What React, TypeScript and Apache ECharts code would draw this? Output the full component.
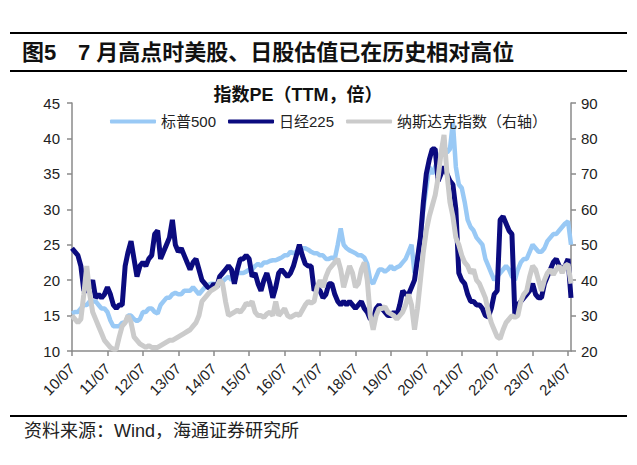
import React, { useEffect, useRef } from "react";
import * as echarts from "echarts";

// Monthly categories, 2010-07 .. 2024-08
const START_YEAR = 2010;
const START_MONTH = 7;
const N_MONTHS = 170;
const months: string[] = [];
for (let i = 0; i < N_MONTHS; i++) {
  const m = START_MONTH - 1 + i;
  const y = START_YEAR + Math.floor(m / 12);
  const mm = (m % 12) + 1;
  months.push(`${String(y % 100).padStart(2, "0")}/${String(mm).padStart(2, "0")}`);
}

const seriesNames = ["标普500", "日经225", "纳斯达克指数（右轴）"];

// S&P 500 PE (TTM), left axis
const sp500 = [
  15.3, 15.5, 15.5, 16, 16.5, 16.5, 17, 17, 17, 16.5,
  16, 16, 15.5, 14.3, 13.5, 13.5, 13.5, 14, 14, 15,
  15, 14.5, 14.2, 14.5, 15.5, 15.5, 16, 16, 15.5, 15.3,
  16.5, 17, 17.5, 17.5, 18, 18.2, 18, 18, 18.5, 18.5,
  18.5, 19, 18.5, 18, 18.5, 19, 19.3, 19.5, 19.5, 19.2,
  19.5, 19.8, 20.2, 20.5, 20, 20.5, 21, 21, 21, 21.2,
  21.5, 21.5, 22, 22.3, 22, 22.5, 22.5, 22.7, 22.8, 22.8,
  23, 23.2, 23.5, 23.5, 24, 23.8, 24, 24.2, 24.5, 24.5,
  24.3, 24, 23.8, 23.8, 23.5, 23.5, 23, 23, 23.2, 23,
  25, 27.3, 25, 24.5, 24.2, 24, 23.8, 23.5, 23.5, 23.2,
  22.3, 20, 19.5, 20.5, 21.5, 21.5, 21.2, 21.5, 22, 21.5,
  21.8, 22, 22.5, 23, 24, 25, 21, 23, 26, 30,
  33, 36, 35, 36, 37, 38, 39, 38, 38.5, 42.3,
  36, 33.5, 33, 31, 28.5, 27.5, 27, 26, 25.5, 25,
  23, 22, 21, 20, 20.5, 21, 21.5, 22, 21.5, 20.5,
  20, 21.5, 22.5, 23, 23, 24, 25, 24.5, 24, 24,
  24.5, 25.5, 26, 26.5, 26.5, 27, 27.5, 28, 28.3, 25,
];

// Nikkei 225 PE (TTM), left axis
const nikkei225 = [
  24.5, 24, 23.5, 22, 18.5, 18.5, 19, 20, 17.5, 18,
  17.5, 18, 19, 18, 16.5, 16, 16.5, 16.5, 22, 24,
  25.5, 23, 20.5, 22, 22.5, 22, 23, 23.5, 26.5, 27,
  23, 24, 25, 26, 28.5, 25, 24, 24.5, 23.5, 22.5,
  21.5, 22.5, 23, 21.5, 20, 19.5, 19, 18.8, 19.5, 19,
  20.5, 21, 21.5, 22, 21.5, 19.5, 21.5, 23, 23, 23.5,
  23, 20.5, 21, 19.5, 18.5, 20, 21, 19.5, 17.5, 19,
  21, 21.5, 21, 20.5, 21, 22, 23.5, 25, 23.5, 22.3,
  22, 22, 18.5, 19, 18.5, 17.5, 18, 19.5, 19.5, 18,
  17, 16.5, 17, 16.5, 17, 16.5, 16, 16.5, 17, 16,
  15.5, 14.5, 14.5, 16, 16.5, 16, 15.5, 15, 15, 15.5,
  15, 16.5, 18.5, 18, 18, 19, 20, 23, 26, 31,
  35, 37, 38.5, 38.5, 34, 35, 36, 35, 34, 33.5,
  30, 21, 20, 19.5, 18, 17, 17, 16.5, 16.5, 16,
  15, 14.8, 16, 18, 18.5, 28.5, 29, 28, 27, 26.5,
  15, 16.5, 17, 17.5, 18, 18.5, 19.5, 18, 17.5, 17.5,
  19.5, 20.5, 21.5, 22.5, 23, 22, 21.5, 22, 23, 17.5,
];

// Nasdaq PE (TTM), right axis
const nasdaq = [
  30, 29, 28, 29, 36, 44, 36, 31, 29, 27,
  25, 23, 22, 21, 20.5, 20.5, 24, 27, 28, 30,
  28, 24, 23, 22, 21.5, 21, 21.5, 21, 21, 21,
  21.5, 22, 22.5, 23, 23, 23.5, 24, 24.5, 25, 25.5,
  26, 27, 28, 30, 34, 35, 36, 37, 37.5, 38,
  40, 39, 34, 30, 30.5, 31, 31.5, 31, 32, 33.5,
  33, 34, 31, 30, 30, 29.5, 30.5, 31, 30, 34,
  30, 31, 32, 30, 29.5, 30, 30.5, 30, 31.5, 33,
  34, 33.5, 34, 38, 40, 38, 41, 43, 44, 45,
  46, 43, 38, 41, 44, 42, 38, 39, 43, 45,
  40, 30, 26, 30, 32, 32, 32.5, 31, 30.5, 30,
  29, 30, 31, 33, 36, 33, 26, 32, 40, 48,
  54, 58, 61, 64, 69, 76, 81, 70, 62, 58,
  52, 50, 47, 45, 44, 42, 43, 40, 39, 37,
  35, 31, 28, 26, 24, 23.5, 26, 28, 29, 30,
  29.5, 30, 34, 36, 37, 41, 44, 43, 40, 37,
  40, 42, 43, 41.5, 43, 44, 42, 44, 44.5, 39,
];

const leftAxis = { min: 10, max: 45, interval: 5 };
const rightAxis = { min: 20, max: 90, interval: 10 };

const titleMain = "图5";
const titleText = "7 月高点时美股、日股估值已在历史相对高位";
const chartTitle = "指数PE（TTM，倍）";
const sourceText = "资料来源：Wind，海通证券研究所";

const COLORS = ["#99c9f5", "#0b0b7f", "#cbcbcb"];
const AXIS_COLOR = "#8a8a8a";
const LABEL_COLOR = "#222";
const FONT = "'Liberation Sans', Arial, 'Noto Sans CJK SC', sans-serif";

export default function App() {
  const ref = useRef<HTMLDivElement>(null);
  useEffect(() => {
    const chart = echarts.init(ref.current!, null, { renderer: "svg" });
    const showYear = (i: number) => i % 12 === 0;
    chart.setOption({
      animation: false,
      backgroundColor: "#ffffff",
      textStyle: { fontFamily: FONT },
      grid: { left: 72, right: 66, top: 103, bottom: 114, containLabel: false, outerBoundsMode: "none" },
      legend: {
        data: seriesNames,
        left: 105,
        top: 109,
        icon: "roundRect",
        itemWidth: 46,
        itemHeight: 4,
        itemGap: 12,
        textStyle: { fontSize: 15, color: LABEL_COLOR, fontFamily: FONT },
      },
      xAxis: {
        type: "category",
        data: months,
        boundaryGap: false,
        axisLine: { show: true, lineStyle: { color: AXIS_COLOR, width: 1.5 } },
        axisTick: { show: true, interval: (i: number) => showYear(i), length: 5, lineStyle: { color: AXIS_COLOR, width: 1.5 } },
        axisLabel: { interval: (i: number) => showYear(i), rotate: 45, fontSize: 15, color: LABEL_COLOR, margin: 15 },
        splitLine: { show: false },
      },
      yAxis: [
        {
          type: "value",
          position: "left",
          min: leftAxis.min,
          max: leftAxis.max,
          interval: leftAxis.interval,
          axisLine: { show: true, lineStyle: { color: AXIS_COLOR, width: 1.5 } },
          axisTick: { show: true, length: 5, lineStyle: { color: AXIS_COLOR, width: 1.5 } },
          axisLabel: { fontSize: 15, color: LABEL_COLOR, margin: 12 },
          splitLine: { show: false },
        },
        {
          type: "value",
          position: "right",
          min: rightAxis.min,
          max: rightAxis.max,
          interval: rightAxis.interval,
          axisLine: { show: true, lineStyle: { color: AXIS_COLOR, width: 1.5 } },
          axisTick: { show: true, length: 5, lineStyle: { color: AXIS_COLOR, width: 1.5 } },
          axisLabel: { fontSize: 15, color: LABEL_COLOR, margin: 10 },
          splitLine: { show: false },
        },
      ],
      series: [
        {
          name: seriesNames[0], type: "line", data: sp500, yAxisIndex: 0, showSymbol: false,
          lineStyle: { color: COLORS[0], width: 4.5 }, itemStyle: { color: COLORS[0] },
        },
        {
          name: seriesNames[1], type: "line", data: nikkei225, yAxisIndex: 0, showSymbol: false,
          lineStyle: { color: COLORS[1], width: 5 }, itemStyle: { color: COLORS[1] },
        },
        {
          name: seriesNames[2], type: "line", data: nasdaq, yAxisIndex: 1, showSymbol: false,
          lineStyle: { color: COLORS[2], width: 5 }, itemStyle: { color: COLORS[2] },
        },
      ],
      graphic: [
        { type: "line", shape: { x1: 10, y1: 33, x2: 627, y2: 33 }, style: { stroke: "#000", lineWidth: 2 } },
        { type: "line", shape: { x1: 10, y1: 71, x2: 627, y2: 71 }, style: { stroke: "#000", lineWidth: 2 } },
        { type: "line", shape: { x1: 10, y1: 416, x2: 627, y2: 416 }, style: { stroke: "#000", lineWidth: 2 } },
        {
          type: "text", x: 22, y: 52,
          style: { text: titleMain, font: `bold 22px ${FONT}`, fill: "#111", align: "left", verticalAlign: "middle" },
        },
        {
          type: "text", x: 78, y: 52,
          style: { text: titleText, font: `bold 22px ${FONT}`, fill: "#111", align: "left", verticalAlign: "middle" },
        },
        {
          type: "text", x: 298, y: 95,
          style: { text: chartTitle, font: `bold 18px ${FONT}`, fill: "#111", align: "center", verticalAlign: "middle" },
        },
        {
          type: "text", x: 24, y: 431,
          style: { text: sourceText, font: `18px ${FONT}`, fill: "#222", align: "left", verticalAlign: "middle" },
        },
      ],
    });
    return () => chart.dispose();
  }, []);
  return (
    <div
      ref={ref}
      style={{ width: 637, height: 465, position: "absolute", left: 0, top: 0, background: "#fff" }}
    />
  );
}
